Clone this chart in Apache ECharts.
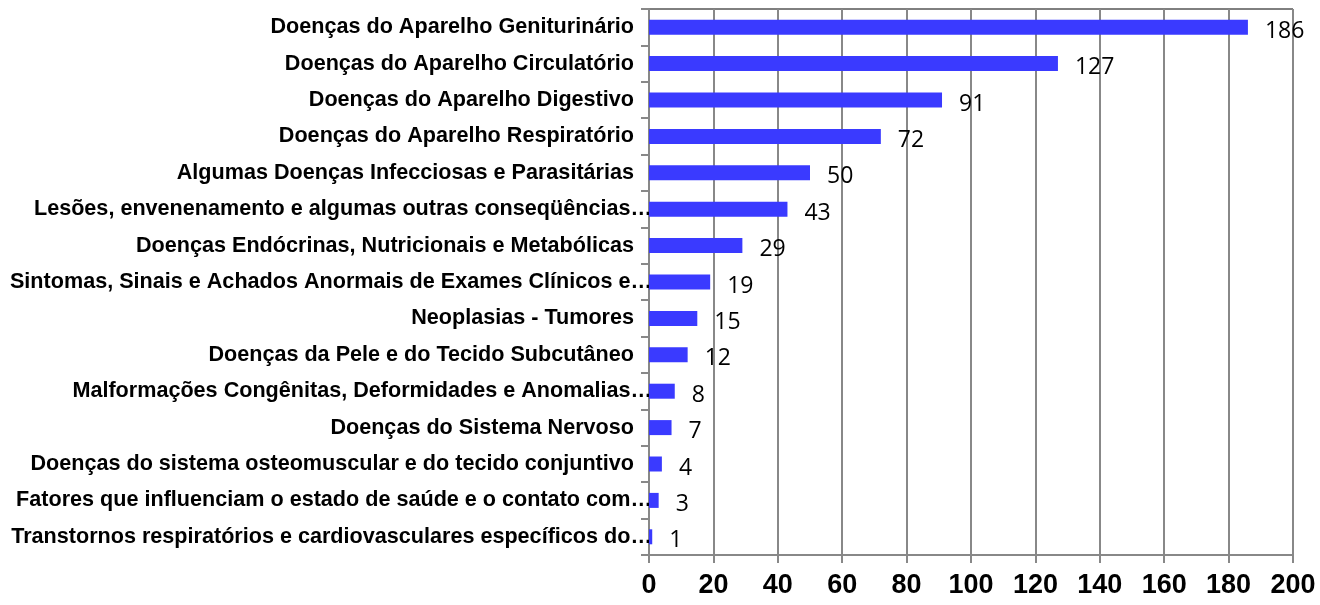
<!DOCTYPE HTML>
<html>
<head>
    <meta charset="UTF-8">
    <title>Internações por capítulo</title>
    <style>
        body{ margin:0; background-color:#ffffff; }
        #main{ width:1320px; height:605px; }
    </style>
    <script src="https://cdn.jsdelivr.net/npm/echarts@6/dist/echarts.min.js"></script>
</head>
<body>
<div id="main"></div>
<script type="text/javascript">
    var categories = [
        'Doenças do Aparelho Geniturinário',
        'Doenças do Aparelho Circulatório',
        'Doenças do Aparelho Digestivo',
        'Doenças do Aparelho Respiratório',
        'Algumas Doenças Infecciosas e Parasitárias',
        'Lesões, envenenamento e algumas outras conseqüências…',
        'Doenças Endócrinas, Nutricionais e Metabólicas',
        'Sintomas, Sinais e Achados Anormais de Exames Clínicos e…',
        'Neoplasias - Tumores',
        'Doenças da Pele e do Tecido Subcutâneo',
        'Malformações Congênitas, Deformidades e Anomalias…',
        'Doenças do Sistema Nervoso',
        'Doenças do sistema osteomuscular e do tecido conjuntivo',
        'Fatores que influenciam o estado de saúde e o contato com…',
        'Transtornos respiratórios e cardiovasculares específicos do…'
    ];
    var values = [186, 127, 91, 72, 50, 43, 29, 19, 15, 12, 8, 7, 4, 3, 1];
    var xTicks = [0, 20, 40, 60, 80, 100, 120, 140, 160, 180, 200];

    var myChart = echarts.init(document.getElementById('main'));

    var option = {
        backgroundColor: '#ffffff',
        animation: false,
        grid: {
            left: 649,
            right: 27,
            top: 9,
            bottom: 50,
            show: true,
            borderColor: '#000000',
            borderWidth: 1
        },
        xAxis: {
            type: 'value',
            min: xTicks[0],
            max: xTicks[xTicks.length - 1],
            interval: 20,
            axisLine: { show: true, lineStyle: { color: '#888888', width: 2 } },
            axisTick: { show: true, length: 8, lineStyle: { color: '#888888', width: 2 } },
            splitLine: { show: true, lineStyle: { color: '#888888', width: 2 } },
            axisLabel: {
                margin: 17,
                color: '#000000',
                fontFamily: 'Liberation Sans',
                fontWeight: 'bold',
                fontSize: 27
            }
        },
        yAxis: {
            type: 'category',
            inverse: true,
            data: categories,
            axisLine: { show: true, lineStyle: { color: '#888888', width: 2 } },
            axisTick: { show: true, length: 8, lineStyle: { color: '#888888', width: 2 } },
            axisLabel: {
                margin: -3,
                padding: [6, 0, 0, 0],
                color: '#000000',
                fontFamily: 'Liberation Sans',
                fontWeight: 'bold',
                fontSize: 21.6,
                formatter: function (v) {
                    // truncated labels run up to the axis, full ones keep a gap
                    return v.slice(-1) === '…' ? v : v + '   ';
                }
            }
        },
        series: [
            {
                type: 'bar',
                data: values,
                barWidth: 15,
                itemStyle: { color: '#3a3aff' },
                label: {
                    show: true,
                    position: 'right',
                    distance: 17,
                    offset: [0, 4],
                    color: '#000000',
                    fontFamily: 'Open Sans',
                    fontSize: 23
                }
            }
        ]
    };
    myChart.setOption(option);
</script>
</body>
</html>
